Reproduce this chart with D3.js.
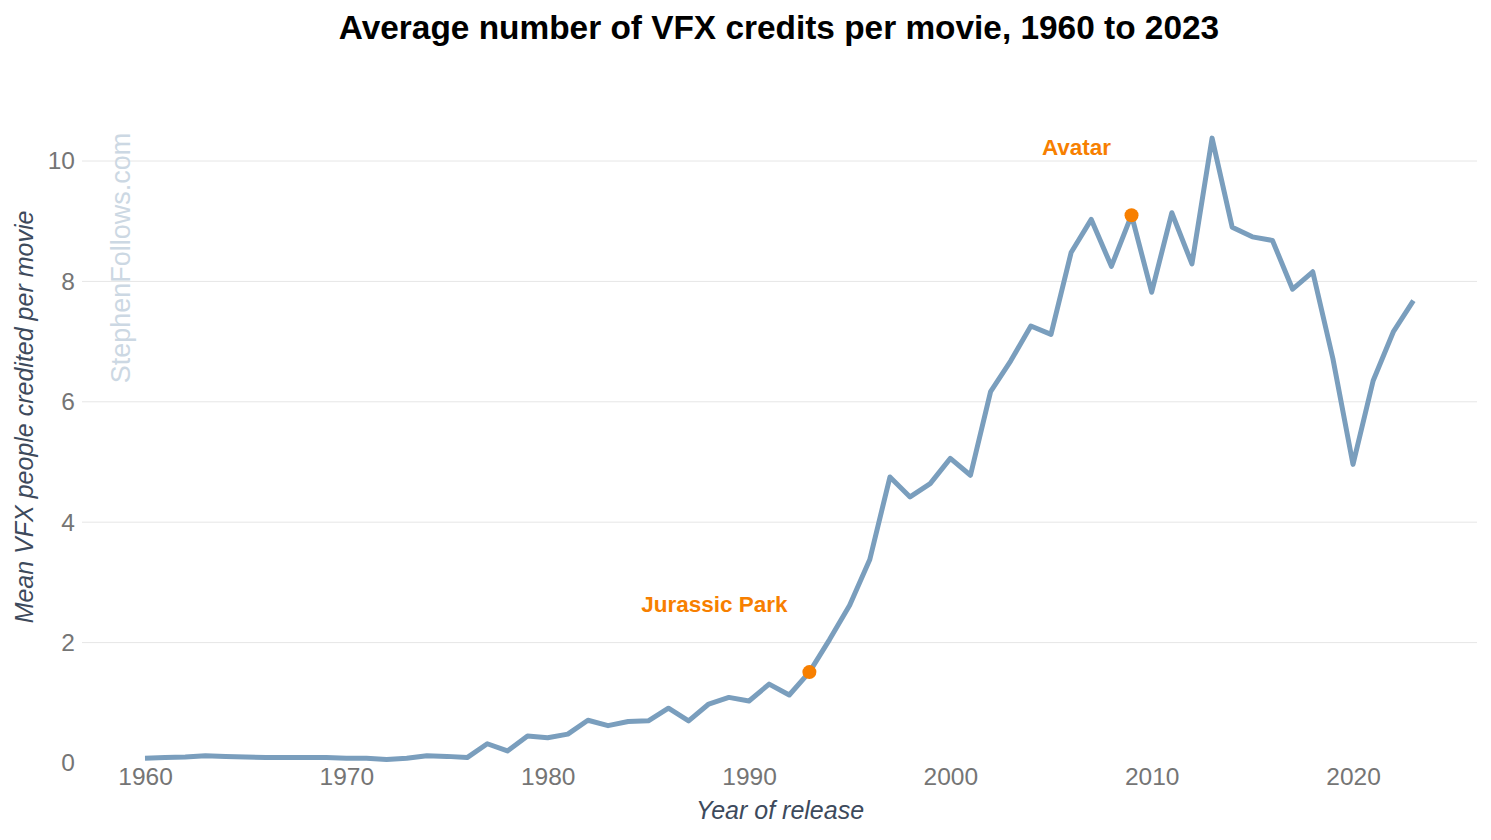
<!DOCTYPE html>
<html>
<head>
<meta charset="utf-8">
<script src="https://cdn.jsdelivr.net/npm/d3@7"></script>
<style>
  body { margin: 0; background: #fff; }
  svg { font-family: "Liberation Sans", Arial, sans-serif; }
</style>
</head>
<body>
<svg class="chart" width="1491" height="840"></svg>
<script>
// Mean VFX credits per movie
const years = d3.range(1960, 2024);
const meanCredits = [
  0.08, 0.09, 0.10, 0.12, 0.11, 0.10, 0.09, 0.09, 0.09, 0.09,
  0.08, 0.08, 0.06, 0.08, 0.12, 0.11, 0.09, 0.32, 0.20, 0.45,
  0.42, 0.48, 0.71, 0.62, 0.69, 0.70, 0.91, 0.70, 0.98, 1.09,
  1.03, 1.31, 1.13, 1.51, 2.05, 2.62, 3.38, 4.75, 4.42, 4.64,
  5.06, 4.78, 6.17, 6.68, 7.26, 7.12, 8.48, 9.03, 8.25, 9.10,
  7.82, 9.14, 8.29, 10.38, 8.90, 8.74, 8.68, 7.87, 8.16, 6.72,
  4.96, 6.35, 7.16, 7.68
];
const yTicks = [0, 2, 4, 6, 8, 10];
const xTicks = [1960, 1970, 1980, 1990, 2000, 2010, 2020];
const highlights = [
  { year: 1993, label: "Jurassic Park", dx: -95, dy: -60 },
  { year: 2009, label: "Avatar", dx: -55, dy: -60 }
];

const data = years.map((y, i) => ({ year: y, value: meanCredits[i] }));

const svg = d3.select(".chart");
const width = +svg.attr("width");
const height = +svg.attr("height");

const x = d3.scaleLinear().domain([1960, 2020]).range([145, 1353]);
const y = d3.scaleLinear().domain([0, 10]).range([763, 161]);
const gridLeft = 82, gridRight = 1477;

// title
svg.append("text")
  .attr("x", 779)
  .attr("y", 39)
  .attr("text-anchor", "middle")
  .style("font-size", "33.4px")
  .style("font-weight", "bold")
  .style("fill", "#000")
  .text("Average number of VFX credits per movie, 1960 to 2023");

// gridlines (no line at zero)
svg.append("g").selectAll("line")
  .data(yTicks.filter(d => d > 0))
  .join("line")
  .attr("x1", gridLeft)
  .attr("x2", gridRight)
  .attr("y1", d => y(d))
  .attr("y2", d => y(d))
  .attr("stroke", "#e6e6e6")
  .attr("stroke-width", 1);

// y axis
const yAxis = svg.append("g")
  .attr("transform", `translate(${gridLeft}, 0)`)
  .call(d3.axisLeft(y).tickValues(yTicks).tickSize(0).tickPadding(7));
yAxis.select(".domain").remove();
yAxis.selectAll("text")
  .style("font-family", "Liberation Sans, Arial, sans-serif")
  .style("font-size", "24.5px")
  .style("fill", "#757575");

// x axis
const xAxis = svg.append("g")
  .attr("transform", `translate(0, ${y(0)})`)
  .call(d3.axisBottom(x).tickValues(xTicks).tickFormat(d3.format("d")).tickSize(0).tickPadding(5));
xAxis.select(".domain").remove();
xAxis.selectAll("text")
  .style("font-family", "Liberation Sans, Arial, sans-serif")
  .style("font-size", "24.5px")
  .style("fill", "#757575");

// axis titles
svg.append("text")
  .attr("x", 780)
  .attr("y", 819)
  .attr("text-anchor", "middle")
  .style("font-size", "25px")
  .style("font-style", "italic")
  .style("fill", "#3d4a5c")
  .text("Year of release");

svg.append("text")
  .attr("transform", "translate(33, 417) rotate(-90)")
  .attr("text-anchor", "middle")
  .style("font-size", "25px")
  .style("font-style", "italic")
  .style("fill", "#3d4a5c")
  .text("Mean VFX people credited per movie");

// watermark
svg.append("text")
  .attr("transform", "translate(130, 258) rotate(-90)")
  .attr("text-anchor", "middle")
  .style("font-size", "27px")
  .style("fill", "#ccd8e3")
  .text("StephenFollows.com");

// line
const line = d3.line()
  .x(d => x(d.year))
  .y(d => y(d.value));

svg.append("path")
  .datum(data)
  .attr("d", line)
  .attr("fill", "none")
  .attr("stroke", "#7a9ebd")
  .attr("stroke-width", 5)
  .attr("stroke-linejoin", "round");

// highlighted films
const hl = svg.append("g").selectAll("g")
  .data(highlights)
  .join("g");

hl.append("circle")
  .attr("cx", d => x(d.year))
  .attr("cy", d => y(meanCredits[years.indexOf(d.year)]))
  .attr("r", 7)
  .attr("fill", "#f77f00");

hl.append("text")
  .attr("x", d => x(d.year) + d.dx)
  .attr("y", d => y(meanCredits[years.indexOf(d.year)]) + d.dy)
  .attr("text-anchor", "middle")
  .style("font-size", "22.5px")
  .style("font-weight", "bold")
  .style("fill", "#f77f00")
  .text(d => d.label);
</script>
</body>
</html>
